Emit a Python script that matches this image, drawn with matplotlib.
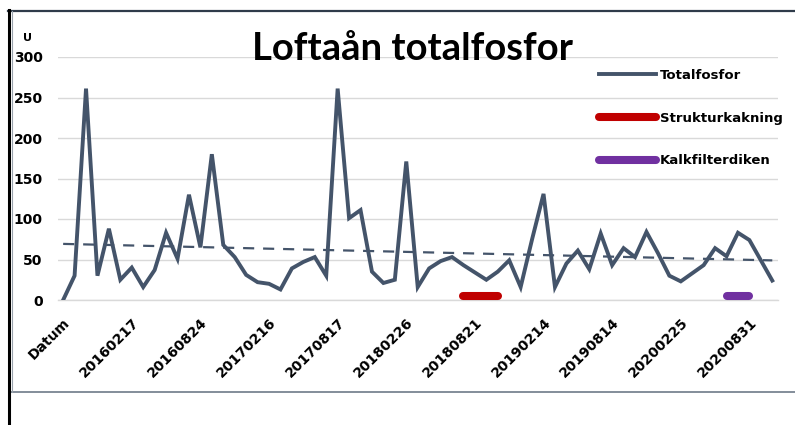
import numpy as np
import matplotlib
matplotlib.use("Agg")
import matplotlib.pyplot as plt
from matplotlib.lines import Line2D

# --- data ------------------------------------------------------------------
totalfosfor = [0, 30, 261, 30, 88, 25, 40, 16, 37, 83, 51, 130, 65, 180, 68,
               53, 31, 22, 20, 13, 39, 47, 53, 30, 261, 101, 111, 35, 21, 25,
               171, 16, 39, 48, 53, 43, 34, 25, 35, 49, 16, 75, 131, 16, 45,
               61, 38, 82, 43, 64, 53, 84, 58, 30, 23, 33, 43, 64, 54, 83,
               74, 49, 24]
tick_labels = ["Datum", "20160217", "20160824", "20170216", "20170817",
               "20180226", "20180821", "20190214", "20190814", "20200225",
               "20200831"]
label_step = 6
struktur_idx = [35, 36, 37, 38]
struktur_val = [5, 5, 5, 5]
kalk_idx = [58, 59, 60]
kalk_val = [5, 5, 5]

NAVY = "#44546a"
RED = "#c00000"
PURPLE = "#7030a0"
GRID = "#d9d9d9"

W, H = 795, 425
fig = plt.figure(figsize=(W / 100, H / 100), dpi=100)
ax = fig.add_axes([58 / W, 1 - 300 / H, 720 / W, 243 / H])

x = np.arange(len(totalfosfor))
ax.plot(x, totalfosfor, color=NAVY, lw=2.8, solid_joinstyle="miter",
        label="Totalfosfor", zorder=3)
# linear trend (Excel-style trendline) fitted to the series
k, m = np.polyfit(x, totalfosfor, 1)
ax.plot(x[[0, -1]], k * x[[0, -1]] + m, color=NAVY, lw=1.6,
        dashes=(5, 4), zorder=2)
ax.plot(struktur_idx, struktur_val, color=RED, lw=5.8,
        solid_capstyle="round", label="Strukturkakning", clip_on=False, zorder=4)
ax.plot(kalk_idx, kalk_val, color=PURPLE, lw=5.8,
        solid_capstyle="round", label="Kalkfilterdiken", clip_on=False, zorder=4)

ax.set_xlim(-0.45, len(totalfosfor) - 0.5)
ax.set_ylim(0, 300)
ax.set_yticks(range(0, 301, 50))
ax.yaxis.grid(True, color=GRID, lw=1.0)
ax.axhline(0, color=GRID, lw=1.0, clip_on=False, zorder=0)
ax.set_axisbelow(True)
for s in ax.spines.values():
    s.set_visible(False)

tfont = dict(family="DejaVu Sans", weight="bold", size=10)
ax.tick_params(length=0)
ax.tick_params(axis="y", pad=11)
for t in ax.get_yticklabels():
    t.set(**tfont)

ax.set_xticks(range(0, len(tick_labels) * label_step, label_step))
ax.set_xticklabels(tick_labels, rotation=45, ha="right", va="top",
                   rotation_mode="anchor", **tfont)
ax.tick_params(axis="x", pad=11)

fig.text(27 / W, 1 - 38 / H, "U", ha="center", va="center",
         family="DejaVu Sans", weight="bold", fontsize=8)
fig.text(412 / W, 1 - 49 / H, "Loftaån totalfosfor", ha="center",
         va="center", family="Lato", weight="bold", fontsize=27.5)

leg = ax.legend(loc="upper left", bbox_to_anchor=(587 / W, 1 - 57 / H),
                bbox_transform=fig.transFigure, frameon=False,
                handlelength=4.3, handletextpad=0.3, labelspacing=2.25,
                prop=dict(family="DejaVu Sans", weight="bold", size=9.5))

# outer frame of the original screenshot
fig.add_artist(Line2D([8 / W, 1], [1 - 11 / H] * 2, color="#2f3b4a", lw=1.6))
fig.add_artist(Line2D([10 / W, 1], [1 - 392 / H] * 2, color="#7a8592", lw=1.3))
fig.add_artist(Line2D([9 / W] * 2, [0, 1 - 10 / H], color="black", lw=2.2))
fig.add_artist(Line2D([11.5 / W] * 2, [1 - 392 / H, 1 - 11 / H],
                      color="#9aa3ad", lw=0.8))

fig.savefig("out.png", dpi=100)
